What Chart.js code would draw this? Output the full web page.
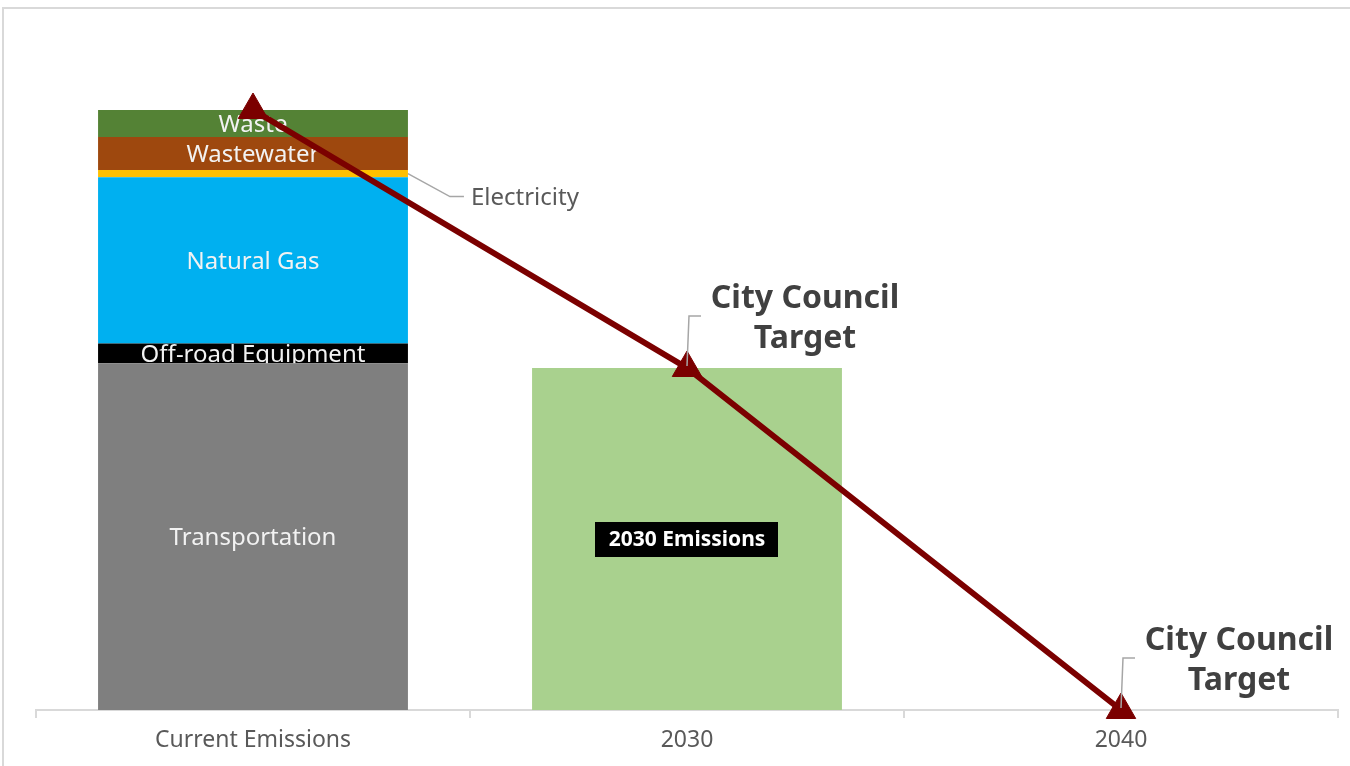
<!DOCTYPE html>
<html>
<head>
<meta charset="utf-8">
<script src="https://cdn.jsdelivr.net/npm/chart.js@4.4.1/dist/chart.umd.min.js"></script>
<style>
  html, body { margin: 0; padding: 0; background: #fff; }
  #wrap { position: relative; width: 1350px; height: 766px; }
  #frame { position: absolute; left: 2px; top: 7px; right: 0; bottom: 0;
           border-top: 2px solid #d9d9d9; border-left: 2px solid #d9d9d9; }
  canvas { position: absolute; left: 0; top: 0; }
</style>
</head>
<body>
<div id="wrap">
  <div id="frame"></div>
  <canvas id="emissionsChart" width="1350" height="766"></canvas>
</div>
<script>
// categorias del eje x
const categories = ['Current Emissions', '2030', '2040'];

// emisiones actuales por sector (de abajo hacia arriba)
const sectorNames = ['Transportation', 'Off-road Equipment', 'Natural Gas', 'Electricity', 'Wastewater', 'Waste'];
const sectorValues = [57.8, 3.3, 27.7, 1.2, 5.5, 4.5];
const sectorColors = ['#7f7f7f', '#000000', '#00b0f0', '#ffc000', '#9e480e', '#548235'];

// barra 2030 y linea de objetivo
const emissions2030 = [null, 57, null];
const targetValues = [100, 57, 0];
const targetLabels = [null, ['City Council', 'Target'], ['City Council', 'Target']];

const FONT = '"Noto Sans", sans-serif';

const datasets = sectorNames.map((name, i) => ({
    label: name,
    data: [sectorValues[i], null, null],
    backgroundColor: sectorColors[i],
    order: 1
}));
datasets.push({
    label: '2030 Emissions',
    data: emissions2030,
    backgroundColor: '#a9d18e',
    order: 1
});
datasets.push({
    type: 'line',
    label: 'City Council Target',
    data: targetValues,
    stack: 'target',
    borderColor: '#7b0000',
    borderWidth: 6,
    pointStyle: 'triangle',
    pointRadius: 17,
    pointBackgroundColor: '#7b0000',
    pointBorderColor: '#7b0000',
    pointBorderWidth: 1,
    tension: 0,
    clip: false,
    order: 0
});

// Etiquetas dentro de las barras y anotaciones
const labelPlugin = {
    id: 'labelPlugin',
    afterDatasetDraw(chart, args) {
        const ds = chart.data.datasets[args.index];
        if (ds.type === 'line') return;
        const ctx = chart.ctx;
        ctx.save();
        args.meta.data.forEach((bar, i) => {
            if (ds.data[i] == null) return;
            const p = bar.getProps(['x', 'y', 'base', 'width'], true);
            const cy = (p.y + p.base) / 2;
            ctx.textBaseline = 'middle';
            if (ds.label === 'Electricity') {
                const x0 = p.x + p.width / 2;
                ctx.strokeStyle = '#a6a6a6';
                ctx.lineWidth = 1.5;
                ctx.beginPath();
                ctx.moveTo(x0, cy);
                ctx.lineTo(x0 + 42, cy + 23);
                ctx.lineTo(x0 + 56, cy + 23);
                ctx.stroke();
                ctx.fillStyle = '#595959';
                ctx.font = '24px ' + FONT;
                ctx.textAlign = 'left';
                ctx.fillText(ds.label, x0 + 63, cy + 25);
            } else if (ds.label === '2030 Emissions') {
                ctx.font = 'bold 21px ' + FONT;
                ctx.fillStyle = '#000';
                ctx.fillRect(p.x - 92, cy - 17, 183, 35);
                ctx.fillStyle = '#fff';
                ctx.textAlign = 'center';
                ctx.fillText(ds.label, p.x, cy + 1);
            } else {
                ctx.font = '24px ' + FONT;
                ctx.fillStyle = '#f2f2f2';
                ctx.textAlign = 'center';
                ctx.fillText(ds.label, p.x, cy + 2);
            }
        });
        ctx.restore();
    },
    afterDraw(chart) {
        const ctx = chart.ctx;
        const xs = chart.scales.x, ys = chart.scales.y;
        ctx.save();
        targetLabels.forEach((lines, i) => {
            if (!lines) return;
            const px = xs.getPixelForValue(i);
            const py = ys.getPixelForValue(targetValues[i]);
            ctx.strokeStyle = '#a6a6a6';
            ctx.lineWidth = 1.5;
            ctx.beginPath();
            ctx.moveTo(px, py - 2);
            ctx.lineTo(px + 2, py - 52);
            ctx.lineTo(px + 14, py - 52);
            ctx.stroke();
            ctx.fillStyle = '#404040';
            ctx.font = 'bold 32px ' + FONT;
            ctx.textAlign = 'center';
            ctx.textBaseline = 'middle';
            ctx.fillText(lines[0], px + 118, py - 69);
            ctx.fillText(lines[1], px + 118, py - 29);
        });
        ctx.restore();
    }
};

const ctx = document.getElementById('emissionsChart').getContext('2d');
new Chart(ctx, {
    type: 'bar',
    data: { labels: categories, datasets: datasets },
    options: {
        responsive: false,
        animation: false,
        categoryPercentage: 1,
        barPercentage: 0.714,
        layout: { autoPadding: false, padding: { left: 36, right: 12, top: 50, bottom: 0 } },
        plugins: {
            legend: { display: false },
            tooltip: { enabled: false }
        },
        scales: {
            x: {
                stacked: true,
                grid: { drawOnChartArea: false, drawTicks: true, tickLength: 8, color: '#d9d9d9', lineWidth: 2 },
                border: { color: '#d9d9d9', width: 2 },
                ticks: { color: '#595959', font: { family: FONT, size: 23 }, padding: 9 },
                afterFit(scale) { scale.height = 56; }
            },
            y: {
                stacked: true,
                display: false,
                min: 0,
                max: 110
            }
        }
    },
    plugins: [labelPlugin]
});
</script>
</body>
</html>
